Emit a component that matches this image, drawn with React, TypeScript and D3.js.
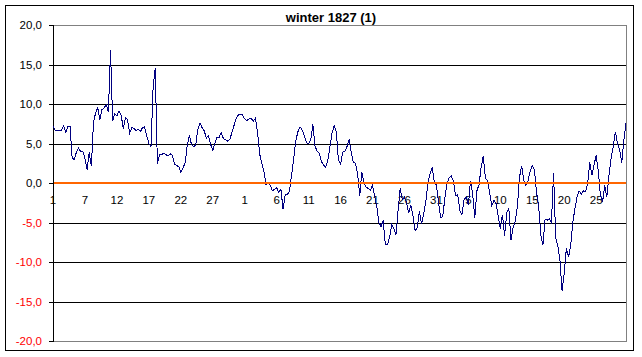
import React from "react";
import * as d3 from "d3";

const values: number[] = [
  7.2, 6.7, 6.7, 6.7, 6.7, 7.2, 6.4, 7.2, 7.2, 3.1,
  3.0, 3.9, 4.4, 4.0, 4.0, 3.1, 1.7, 3.9, 2.1, 7.6,
  8.9, 9.5, 8.0, 9.3, 9.5, 9.9, 9.0, 16.8, 7.8, 8.8,
  8.5, 9.1, 8.6, 6.9, 8.3, 8.0, 6.3, 7.0, 6.9, 6.6,
  6.8, 6.5, 7.0, 7.1, 6.0, 5.0, 4.6, 12.1, 14.5, 2.4,
  3.6, 3.6, 3.8, 3.6, 3.4, 3.7, 3.5, 2.4, 2.2, 2.1,
  1.3, 1.9, 2.5, 4.7, 6.0, 4.9, 4.6, 4.8, 6.8, 7.6,
  7.0, 6.6, 5.7, 6.0, 4.9, 4.1, 5.0, 5.8, 5.8, 6.4,
  5.6, 5.5, 5.3, 5.5, 6.4, 7.3, 8.2, 8.6, 8.7, 8.6,
  8.1, 7.9, 8.1, 8.2, 7.8, 8.2, 6.5, 3.7, 2.5, 1.5,
  -0.2, 0.0, -0.3, -1.0, -0.8, -0.6, -1.2, -0.8, -3.3, -1.5,
  -1.5, -1.0, 1.0, 3.1, 5.4, 6.5, 7.1, 6.7, 5.9, 5.1,
  5.0, 5.5, 7.4, 4.7, 4.0, 3.8, 2.7, 2.3, 2.0, 2.8,
  4.6, 6.3, 7.3, 6.5, 2.9, 2.4, 3.9, 4.0, 4.6, 5.5,
  3.9, 2.6, 2.5, 1.2, -1.6, 1.4, -0.1, -0.5, -0.7, -0.9,
  -0.3, -1.6, -3.0, -5.0, -5.5, -4.7, -7.8, -7.8, -6.9, -5.3,
  -5.8, -6.6, -3.5, -0.7, -2.1, -1.8, -2.5, -3.8, -2.8, -4.2,
  -6.0, -5.7, -3.5, -5.2, -4.0, -2.4, -0.1, 1.2, 1.9, 0.2,
  -0.3, -2.5, -4.4, -4.2, -1.8, -0.1, 0.7, 0.9, 0.2, -1.6,
  -1.5, -3.5, -4.0, -2.1, -1.8, -2.8, 0.3, -1.4, -4.4, -1.0,
  -0.2, 2.0, 3.4, 0.6, 0.3, -1.3, -2.9, -2.2, -2.6, -4.2,
  -5.8, -4.0, -6.7, -3.8, -3.2, -7.2, -5.6, -4.9, -3.0, 0.7,
  2.2, 0.3, -0.3, 0.3, 1.5, 2.2, 1.7, -1.2, -2.9, -6.6,
  -7.8, -4.6, -4.7, -4.5, -5.0, 1.2, -7.0, -8.0, -9.8, -13.7,
  -11.4, -8.3, -9.4, -8.0, -5.0, -3.3, -1.8, -1.0, -1.4, -1.0,
  -1.1, -0.1, 2.6, 1.0, 2.3, 3.5, 1.5, -1.6, -2.4, -0.3,
  -1.8, 1.0, 3.1, 4.6, 6.5, 5.0, 4.2, 2.6, 5.4, 7.6,
];

const xLabels: string[] = [
  "1", "7", "12", "17", "22", "27", "1", "6", "11", "16",
  "21", "26", "31", "5", "10", "15", "20", "25",
];
const labelInterval = 15;

const yTicks: number[] = [-20, -15, -10, -5, 0, 5, 10, 15, 20];

const title = "winter 1827 (1)";

const W = 642;
const H = 357;
const plot = { left: 53, right: 626, top: 25, bottom: 341 };
const FONT = "'Liberation Sans', Arial, sans-serif";

export default function App() {
  const x = d3
    .scaleLinear()
    .domain([0, values.length - 1])
    .range([plot.left, plot.right]);
  const y = d3.scaleLinear().domain([-20, 20]).range([plot.bottom, plot.top]);

  const line = d3
    .line<number>()
    .x((_, i) => x(i))
    .y((d) => y(d));

  const fmt = (v: number) => v.toFixed(1).replace(".", ",");

  return (
    <svg
      width={W}
      height={H}
      style={{ position: "absolute", left: 0, top: 0, background: "#fff" }}
    >
      <rect x={0} y={0} width={W} height={H} fill="#fff" />
      {/* outer chart border */}
      <rect
        x={5.5}
        y={5.5}
        width={628}
        height={345}
        fill="none"
        stroke="#000"
        strokeWidth={1}
        shapeRendering="crispEdges"
      />
      {/* title */}
      <text
        x={331}
        y={22}
        textAnchor="middle"
        fontFamily={FONT}
        fontWeight="bold"
        fontSize={13}
        fill="#000"
      >
        {title}
      </text>

      {/* gridlines */}
      {yTicks
        .filter((t) => t !== 0 && Math.abs(t) !== 20)
        .map((t) => (
          <line
            key={"g" + t}
            x1={plot.left}
            x2={plot.right}
            y1={Math.round(y(t)) + 0.5}
            y2={Math.round(y(t)) + 0.5}
            stroke="#000"
            strokeWidth={1}
            shapeRendering="crispEdges"
          />
        ))}
      {/* plot area border (gray) */}
      <polyline
        points={`${plot.left},${plot.top + 0.5} ${plot.right + 0.5},${plot.top + 0.5} ${plot.right + 0.5},${plot.bottom + 0.5} ${plot.left},${plot.bottom + 0.5}`}
        fill="none"
        stroke="#808080"
        strokeWidth={1}
        shapeRendering="crispEdges"
      />
      {/* y axis */}
      <line
        x1={plot.left + 0.5}
        x2={plot.left + 0.5}
        y1={plot.top}
        y2={plot.bottom + 1}
        stroke="#000"
        shapeRendering="crispEdges"
      />
      {yTicks.map((t) => (
        <g key={"t" + t}>
          <line
            x1={plot.left - 4}
            x2={plot.left}
            y1={Math.round(y(t)) + 0.5}
            y2={Math.round(y(t)) + 0.5}
            stroke="#000"
            shapeRendering="crispEdges"
          />
          <text
            x={42}
            y={y(t) + 4}
            textAnchor="end"
            fontFamily={FONT}
            fontSize={11.5}
            fill={t < 0 ? "#ff0000" : "#000"}
          >
            {fmt(t)}
          </text>
        </g>
      ))}

      {/* x labels */}
      {xLabels.map((lab, k) => (
        <text
          key={"x" + k}
          x={x(k * labelInterval)}
          y={204}
          textAnchor="middle"
          fontFamily={FONT}
          fontSize={11.5}
          fill="#000"
        >
          {lab}
        </text>
      ))}

      {/* data line */}
      <path
        d={line(values) || ""}
        fill="none"
        stroke="#000080"
        strokeWidth={1}
        shapeRendering="crispEdges"
      />

      {/* zero line */}
      <line
        x1={plot.left + 1}
        x2={plot.right}
        y1={Math.round(y(0))}
        y2={Math.round(y(0))}
        stroke="#ff6600"
        strokeWidth={2}
        shapeRendering="crispEdges"
      />
    </svg>
  );
}
